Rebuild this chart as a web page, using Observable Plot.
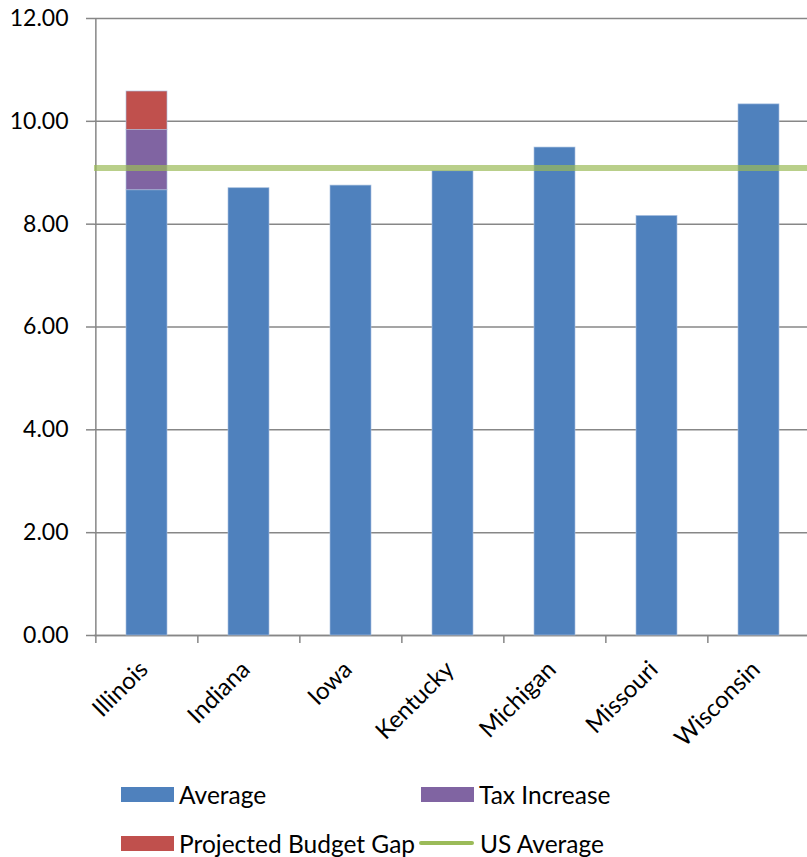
<!DOCTYPE html>
<html>
<head>
<meta charset="utf-8">
<script src="https://cdn.jsdelivr.net/npm/d3@7"></script>
<script src="https://cdn.jsdelivr.net/npm/@observablehq/plot@0.6"></script>
<style>
  html, body { margin: 0; padding: 0; background: #fff; overflow: hidden; }
  #wrap { position: relative; width: 807px; height: 857px; font-family: Lato, sans-serif; overflow: hidden; }
  .legend-item { position: absolute; display: flex; align-items: center; font-size: 24.5px; color: #000; white-space: nowrap; }
  .sw { display: inline-block; width: 53px; height: 15px; margin-right: 5px; }
  .ln { display: inline-block; width: 55px; height: 4px; margin-right: 6px; border-radius: 2px; }
</style>
</head>
<body>
<div id="wrap"></div>
<script>
const states = ["Illinois", "Indiana", "Iowa", "Kentucky", "Michigan", "Missouri", "Wisconsin"];
const average = [8.66, 8.70, 8.75, 9.03, 9.49, 8.16, 10.33];
const taxIncrease = [1.17, 0, 0, 0, 0, 0, 0];
const budgetGap = [0.75, 0, 0, 0, 0, 0, 0];
const usAverage = 9.09;
const seriesNames = ["Average", "Tax Increase", "Projected Budget Gap"];
const seriesColors = ["#4F81BD", "#8064A2", "#C0504D"];
const lineName = "US Average";
const lineColor = "#9BBB59";
const yTicks = [0, 2, 4, 6, 8, 10, 12];

const rows = [];
states.forEach((s, i) => {
  rows.push({state: s, series: seriesNames[0], value: average[i]});
  rows.push({state: s, series: seriesNames[1], value: taxIncrease[i]});
  rows.push({state: s, series: seriesNames[2], value: budgetGap[i]});
});

const W = 807, H = 760, ML = 94, MR = -3, MT = 18, MB = 125;
const step = (W - ML - MR) / states.length;
const grey = "#878787";

const chart = Plot.plot({
  width: W,
  height: H,
  marginLeft: ML,
  marginRight: MR,
  marginTop: MT,
  marginBottom: MB,
  style: {fontFamily: "Lato, sans-serif", fontSize: "23px", color: "#000", background: "#fff"},
  x: {domain: states, paddingInner: 0.6, paddingOuter: 0.3, label: null},
  y: {domain: [0, 12], ticks: yTicks, label: null},
  color: {domain: seriesNames, range: seriesColors},
  marks: [
    Plot.gridY(yTicks, {stroke: grey, strokeOpacity: 1, strokeWidth: 1.5}),
    Plot.axisY(yTicks, {tickSize: 8, tickPadding: 18, stroke: grey, strokeWidth: 1.5, tickFormat: d3.format(".2f"), fill: "#000", label: null}),
    Plot.ruleX([states[0]], {x: d => d, dx: -step / 2, y1: 0, y2: 12, stroke: grey, strokeWidth: 1.5}),
    Plot.ruleX(states, {x: d => d, dx: -step / 2, y1: 0, y2: 0, insetBottom: -8, stroke: grey, strokeWidth: 1.5}),
    Plot.ruleY([0], {stroke: grey, strokeWidth: 1.5}),
    Plot.barY(rows, Plot.stackY({x: "state", y: "value", fill: "series", order: seriesNames, stroke: "#a9c1e0", strokeWidth: 0.8, strokeOpacity: 0.8})),
    Plot.ruleY([usAverage], {stroke: lineColor, strokeWidth: 6, strokeOpacity: 0.7}),
    Plot.axisX({tickSize: 0, tickRotate: -45, tickPadding: 30, dx: -3, fontSize: 24, fill: "#000", label: null})
  ]
});

const wrap = document.getElementById("wrap");
wrap.appendChild(chart);

const legendItems = [
  {name: seriesNames[0], color: seriesColors[0], type: "sw", left: 121, top: 794},
  {name: seriesNames[1], color: seriesColors[1], type: "sw", left: 421, top: 794},
  {name: seriesNames[2], color: seriesColors[2], type: "sw", left: 121, top: 843},
  {name: lineName, color: lineColor, type: "ln", left: 419, top: 843}
];
legendItems.forEach(it => {
  const d = document.createElement("div");
  d.className = "legend-item";
  d.style.left = it.left + "px";
  d.style.top = (it.top - 15) + "px";
  d.style.height = "30px";
  const s = document.createElement("span");
  s.className = it.type;
  s.style.background = it.color;
  d.appendChild(s);
  const t = document.createElement("span");
  t.textContent = it.name;
  d.appendChild(t);
  wrap.appendChild(d);
});
</script>
</body>
</html>
